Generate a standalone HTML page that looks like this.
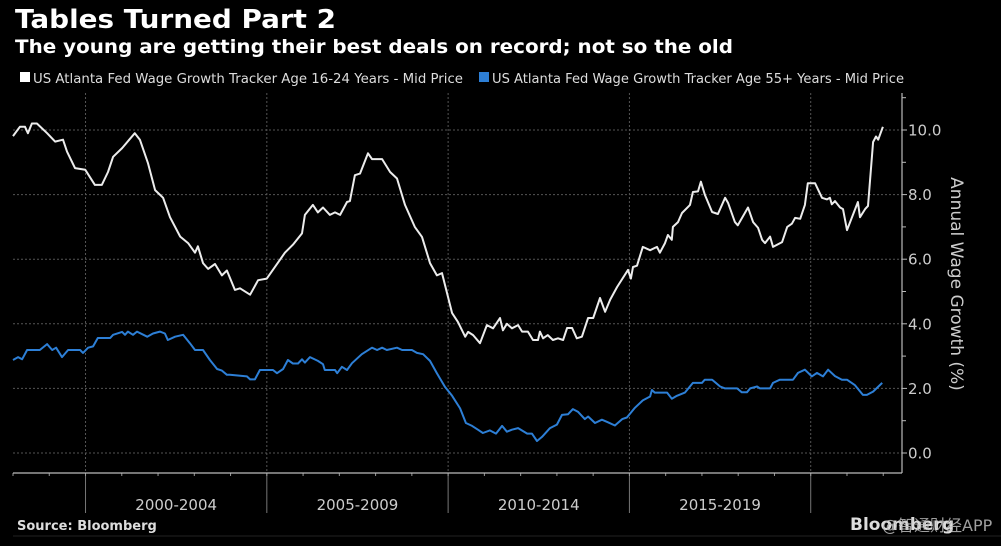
<!DOCTYPE html>
<html><head><meta charset="utf-8">
<style>
html,body{margin:0;padding:0;background:#000;}
svg{display:block;font-family:"DejaVu Sans","Liberation Sans","Noto Sans CJK SC",sans-serif;}
</style></head>
<body>
<svg id="chart" width="1001" height="546" viewBox="0 0 1001 546" xmlns="http://www.w3.org/2000/svg">
<rect x="0" y="0" width="1001" height="546" fill="#000"/>
<text x="15" y="28" fill="#fff" font-weight="bold" font-size="26" textLength="321" lengthAdjust="spacingAndGlyphs">Tables Turned Part 2</text>
<text x="15" y="53" fill="#fff" font-weight="bold" font-size="19" textLength="718" lengthAdjust="spacingAndGlyphs">The young are getting their best deals on record; not so the old</text>
<g>
 <g>
  <rect x="20" y="72" width="10" height="10" fill="#fff"/>
  <text x="33" y="83" fill="#ddd" font-size="13" textLength="430" lengthAdjust="spacingAndGlyphs">US Atlanta Fed Wage Growth Tracker Age 16-24 Years - Mid Price</text>
 </g>
 <g>
  <rect x="479" y="72" width="10" height="10" fill="#2d7fd6"/>
  <text x="492" y="83" fill="#ddd" font-size="13" textLength="412" lengthAdjust="spacingAndGlyphs">US Atlanta Fed Wage Growth Tracker Age 55+ Years - Mid Price</text>
 </g>
</g>
<g id="grid"></g>
<g id="axes"></g>
<g id="series"></g>
<text transform="translate(951,284) rotate(90)" text-anchor="middle" fill="#ccc" font-size="17">Annual Wage Growth (%)</text>
<text x="17" y="530" fill="#ddd" font-weight="bold" font-size="13">Source: Bloomberg</text>
<line x1="13" y1="536" x2="1001" y2="536" stroke="#222" stroke-width="1"/>
<text x="850" y="530" fill="#ddd" font-weight="bold" font-size="17">Bloomberg</text>
<text x="882" y="531" fill="#bbb" font-size="16" opacity="0.85">@智通财经APP</text>
</svg>
<script>
const yTicks = [0, 2, 4, 6, 8, 10];
const periodLabels = ["2000-2004", "2005-2009", "2010-2014", "2015-2019"];
const periodStarts = [2000, 2005, 2010, 2015, 2020];
const youngDates = [1998.00,1998.19,1998.33,1998.41,1998.52,1998.66,1998.94,1999.16,1999.38,1999.49,1999.71,1999.99,2000.26,2000.45,2000.62,2000.76,2001.01,2001.36,2001.50,2001.72,2001.92,2002.14,2002.33,2002.61,2002.83,2003.02,2003.10,2003.24,2003.38,2003.57,2003.76,2003.90,2004.12,2004.26,2004.54,2004.76,2005.00,2005.31,2005.50,2005.72,2005.97,2006.05,2006.27,2006.41,2006.55,2006.74,2006.88,2007.02,2007.21,2007.29,2007.43,2007.57,2007.79,2007.90,2008.18,2008.40,2008.59,2008.81,2009.08,2009.28,2009.50,2009.69,2009.83,2010.11,2010.27,2010.47,2010.55,2010.69,2010.88,2011.07,2011.24,2011.43,2011.51,2011.62,2011.76,2011.93,2012.04,2012.20,2012.34,2012.48,2012.53,2012.62,2012.75,2012.89,2013.03,2013.17,2013.28,2013.42,2013.55,2013.69,2013.86,2014.00,2014.19,2014.33,2014.47,2014.66,2014.96,2015.04,2015.10,2015.21,2015.37,2015.57,2015.76,2015.84,2015.98,2016.06,2016.17,2016.20,2016.34,2016.45,2016.67,2016.75,2016.89,2016.97,2017.08,2017.28,2017.44,2017.64,2017.72,2017.91,2017.99,2018.27,2018.41,2018.55,2018.66,2018.74,2018.88,2018.96,2019.21,2019.35,2019.48,2019.57,2019.71,2019.84,2019.92,2020.12,2020.31,2020.45,2020.53,2020.58,2020.67,2020.81,2020.89,2021.00,2021.30,2021.36,2021.50,2021.58,2021.72,2021.80,2021.86,2021.99];
const youngValues = [9.81,10.1,10.1,9.9,10.2,10.2,9.9,9.64,9.7,9.33,8.82,8.77,8.3,8.3,8.7,9.17,9.44,9.9,9.7,8.98,8.14,7.9,7.3,6.7,6.5,6.2,6.4,5.88,5.7,5.85,5.5,5.65,5.05,5.1,4.9,5.35,5.4,5.9,6.2,6.45,6.8,7.37,7.68,7.45,7.6,7.37,7.45,7.37,7.77,7.8,8.6,8.65,9.28,9.1,9.1,8.7,8.5,7.68,7.0,6.69,5.88,5.5,5.57,4.33,4.06,3.6,3.75,3.65,3.4,3.96,3.86,4.18,3.8,4.0,3.86,3.96,3.76,3.76,3.5,3.5,3.76,3.55,3.65,3.5,3.55,3.5,3.87,3.87,3.55,3.6,4.18,4.18,4.8,4.37,4.75,5.14,5.67,5.4,5.76,5.8,6.38,6.28,6.38,6.2,6.5,6.75,6.6,7.0,7.15,7.43,7.68,8.08,8.1,8.4,8.0,7.46,7.4,7.9,7.75,7.15,7.05,7.6,7.15,6.97,6.6,6.5,6.7,6.38,6.53,7.0,7.1,7.28,7.25,7.68,8.35,8.35,7.9,7.85,7.9,7.7,7.8,7.6,7.55,6.9,7.77,7.3,7.55,7.65,9.63,9.8,9.7,10.1];
const oldDates = [1998.00,1998.14,1998.25,1998.39,1998.74,1998.94,1999.08,1999.19,1999.35,1999.52,1999.85,1999.93,2000.07,2000.21,2000.34,2000.68,2000.76,2001.01,2001.09,2001.17,2001.31,2001.42,2001.70,2001.86,2002.05,2002.19,2002.27,2002.47,2002.69,2002.88,2003.02,2003.24,2003.43,2003.63,2003.76,2003.90,2003.98,2004.45,2004.54,2004.67,2004.81,2005.17,2005.28,2005.45,2005.58,2005.72,2005.86,2005.97,2006.05,2006.19,2006.41,2006.55,2006.60,2006.88,2006.94,2007.07,2007.21,2007.35,2007.62,2007.90,2008.04,2008.18,2008.31,2008.59,2008.73,2009.00,2009.14,2009.31,2009.50,2009.69,2009.91,2010.11,2010.33,2010.49,2010.66,2010.82,2010.96,2011.15,2011.32,2011.49,2011.62,2011.76,2011.93,2012.18,2012.31,2012.45,2012.59,2012.81,2013.00,2013.14,2013.31,2013.44,2013.58,2013.77,2013.86,2014.05,2014.24,2014.41,2014.60,2014.80,2014.93,2015.15,2015.37,2015.57,2015.62,2015.70,2016.04,2016.17,2016.31,2016.53,2016.75,2017.00,2017.08,2017.28,2017.50,2017.64,2017.97,2018.10,2018.24,2018.33,2018.52,2018.60,2018.88,2018.96,2019.15,2019.51,2019.65,2019.84,2020.03,2020.17,2020.34,2020.48,2020.67,2020.86,2021.00,2021.22,2021.44,2021.55,2021.72,2021.97];
const oldValues = [2.88,2.97,2.9,3.19,3.19,3.37,3.19,3.26,2.97,3.19,3.19,3.1,3.26,3.3,3.56,3.56,3.66,3.75,3.66,3.76,3.66,3.76,3.6,3.7,3.76,3.7,3.5,3.6,3.66,3.4,3.19,3.19,2.88,2.6,2.55,2.42,2.42,2.37,2.28,2.28,2.57,2.57,2.47,2.6,2.88,2.77,2.77,2.9,2.8,2.97,2.85,2.75,2.57,2.57,2.47,2.67,2.57,2.78,3.06,3.26,3.19,3.26,3.19,3.26,3.19,3.19,3.1,3.06,2.85,2.47,2.05,1.77,1.38,0.93,0.84,0.72,0.62,0.7,0.6,0.84,0.66,0.72,0.77,0.6,0.6,0.37,0.5,0.77,0.88,1.18,1.2,1.36,1.28,1.05,1.13,0.93,1.03,0.95,0.85,1.05,1.1,1.4,1.63,1.75,1.95,1.87,1.87,1.68,1.77,1.87,2.17,2.17,2.27,2.27,2.06,2.0,2.0,1.88,1.88,2.0,2.06,2.0,2.0,2.17,2.27,2.27,2.48,2.58,2.37,2.48,2.37,2.58,2.38,2.27,2.27,2.1,1.8,1.8,1.9,2.17];

const NS = "http://www.w3.org/2000/svg";
const X0 = 13, X1 = 902, Y0 = 453, PXPERUNIT = 32.3, PXPERYEAR = 36.26, YEAR0 = 1998;
function xScale(yr){ return X0 + (yr - YEAR0) * PXPERYEAR; }
function yScale(v){ return Y0 - v * PXPERUNIT; }
function mk(tag, attrs, parent){ const e = document.createElementNS(NS, tag); for (const k in attrs) e.setAttribute(k, attrs[k]); parent.appendChild(e); return e; }

const grid = document.getElementById('grid');
const axes = document.getElementById('axes');
const series = document.getElementById('series');

yTicks.forEach(v => {
  const y = yScale(v);
  const gl = mk('line', {x1: X0, x2: X1, y1: y, y2: y, stroke: '#555', 'stroke-width': 1, 'stroke-dasharray': '2,2'}, grid);
  
  
  const tk = mk('line', {x1: X1, x2: X1 + 5, y1: y, y2: y, stroke: '#bbb', 'stroke-width': 1}, axes);
  
  
  const t = mk('text', {x: X1 + 6, y: y + 5.5, fill: '#ccc', 'font-size': 15}, axes);
  t.textContent = v.toFixed(1);
  
  
  if (v < 10) {
    const mt = mk('line', {x1: X1, x2: X1 + 4, y1: yScale(v + 1), y2: yScale(v + 1), stroke: '#bbb', 'stroke-width': 1}, axes);
    
    
  }
});
const mt11 = mk('line', {x1: X1, x2: X1 + 4, y1: yScale(11), y2: yScale(11), stroke: '#bbb', 'stroke-width': 1}, axes);



periodStarts.forEach(yr => {
  const x = xScale(yr);
  const gl = mk('line', {x1: x, x2: x, y1: 93, y2: 473, stroke: '#555', 'stroke-width': 1, 'stroke-dasharray': '2,2'}, grid);
  
  
  const sep = mk('line', {x1: x, x2: x, y1: 473, y2: 513, stroke: '#777', 'stroke-width': 1}, axes);
  
  
});
for (let yr = YEAR0; yr <= 2022; yr++) {
  const x = xScale(yr);
  const tk = mk('line', {x1: x, x2: x, y1: 473, y2: 476, stroke: '#999', 'stroke-width': 1}, axes);
  
  
}
periodLabels.forEach((lab, i) => {
  const t = mk('text', {x: (xScale(periodStarts[i]) + xScale(periodStarts[i + 1])) / 2, y: 510, fill: '#ccc', 'font-size': 15, 'text-anchor': 'middle'}, axes);
  t.textContent = lab;
  
  
});
const xa = mk('line', {x1: X0, x2: X1, y1: 473, y2: 473, stroke: '#bbb', 'stroke-width': 1.2}, axes);


const ya = mk('line', {x1: X1, x2: X1, y1: 93, y2: 473, stroke: '#bbb', 'stroke-width': 1.2}, axes);



function drawLine(dates, vals, color, name){
  const d = dates.map((yr, i) => (i ? 'L' : 'M') + xScale(yr).toFixed(1) + ',' + yScale(vals[i]).toFixed(1)).join(' ');
  const p = mk('path', {d: d, fill: 'none', stroke: color, 'stroke-width': 2, 'stroke-linejoin': 'round'}, series);
  
  
}
drawLine(oldDates, oldValues, '#2d7fd6', 'line-age-55-plus');
drawLine(youngDates, youngValues, '#ececec', 'line-age-16-24');
</script>
</body></html>
